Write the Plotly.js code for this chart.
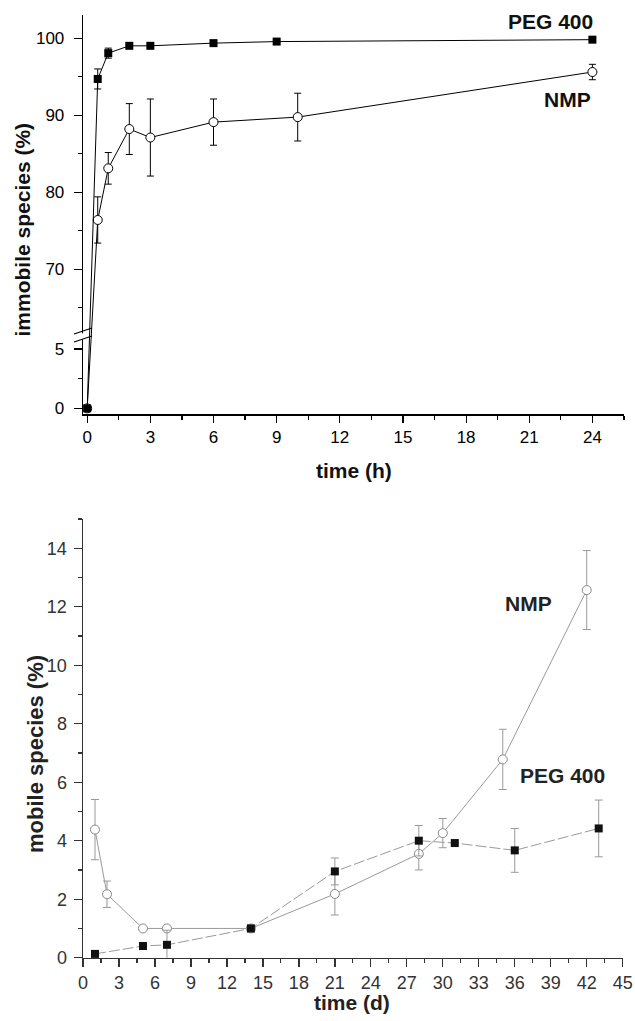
<!DOCTYPE html>
<html>
<head>
<meta charset="utf-8">
<script src="https://cdn.plot.ly/plotly-3.0.1.min.js"></script>
<style>html,body{margin:0;padding:0;background:#fff;}#chart{width:635px;height:1021px;}</style>
</head>
<body>
<div id="chart"></div>
<script>
// ---------- data: top panel (immobile species, hours) ----------
var pegHours = [0, 0.5, 1, 2, 3, 6, 9, 24];
var pegImmobile = [0, 94.7, 98.05, 99.0, 99.0, 99.35, 99.55, 99.8];
var pegImmobileErr = [0, 1.3, 0.65, 0.2, 0.2, 0.2, 0.2, 0.2];
var nmpHours = [0, 0.5, 1, 2, 3, 6, 10, 24];
var nmpImmobile = [0, 76.4, 83.1, 88.2, 87.1, 89.1, 89.75, 95.6];
var nmpImmobileErr = [0, 3.0, 2.05, 3.3, 5.0, 3.0, 3.1, 1.0];
var topYTickLabels = ['0', '5', '70', '80', '90', '100'];
var topYTickValues = [0, 5, 70, 80, 90, 100];
var topYMinorValues = [2.5, 65, 75, 85, 95];

// ---------- data: bottom panel (mobile species, days) ----------
var nmpDays = [1, 2, 5, 7, 14, 21, 28, 30, 35, 42];
var nmpMobile = [4.38, 2.17, 1.0, 1.0, 1.0, 2.18, 3.55, 4.26, 6.78, 12.57];
var nmpMobileErr = [1.03, 0.45, 0.05, 0.05, 0.05, 0.72, 0.55, 0.5, 1.03, 1.35];
var pegDays = [1, 5, 7, 14, 21, 28, 31, 36, 43];
var pegMobile = [0.13, 0.4, 0.44, 1.0, 2.95, 4.0, 3.92, 3.67, 4.42];
var pegMobileErr = [0, 0, 0.5, 0.12, 0.46, 0.52, 0, 0.75, 0.97];

// ---------- broken axis mapping for the top panel ----------
var BREAK_LO = 6.18, BREAK_HI = 61.47, UPPER_SCALE = 7.7 / 11.86;
function brk(v) { return v <= BREAK_LO + 1e-9 ? v : BREAK_LO + (v - BREAK_HI) * UPPER_SCALE; }
function mapArr(a) { return a.map(brk); }
function errPlus(y, e) { return y.map(function (v, i) { return brk(v + e[i]) - brk(v); }); }
function errMinus(y, e) { return y.map(function (v, i) { return brk(v) - brk(v - e[i]); }); }

var W = 635, H = 1021;
function px(x) { return x / W; }
function py(y) { return 1 - y / H; }

var FONT = 'Liberation Sans, Arial, sans-serif';

var traces = [
  {
    x: nmpHours, y: mapArr(nmpImmobile), xaxis: 'x', yaxis: 'y',
    type: 'scatter', mode: 'lines+markers', cliponaxis: false,
    line: {color: '#000', width: 1},
    marker: {symbol: 'circle', size: 9, color: '#fff', line: {color: '#000', width: 1}},
    error_y: {type: 'data', symmetric: false, array: errPlus(nmpImmobile, nmpImmobileErr),
      arrayminus: errMinus(nmpImmobile, nmpImmobileErr), color: '#000', thickness: 1, width: 3.5},
    name: 'NMP', showlegend: false, hoverinfo: 'skip'
  },
  {
    x: pegHours, y: mapArr(pegImmobile), xaxis: 'x', yaxis: 'y',
    type: 'scatter', mode: 'lines+markers', cliponaxis: false,
    line: {color: '#000', width: 1},
    marker: {symbol: 'square', size: 8, color: '#000'},
    error_y: {type: 'data', symmetric: false, array: errPlus(pegImmobile, pegImmobileErr),
      arrayminus: errMinus(pegImmobile, pegImmobileErr), color: '#000', thickness: 1, width: 3.5},
    name: 'PEG 400', showlegend: false, hoverinfo: 'skip'
  },
  {
    x: nmpDays, y: nmpMobile, xaxis: 'x2', yaxis: 'y2',
    type: 'scatter', mode: 'lines+markers', cliponaxis: false,
    line: {color: '#999', width: 1},
    marker: {symbol: 'circle', size: 9, color: '#fff', line: {color: '#888', width: 1}},
    error_y: {type: 'data', array: nmpMobileErr, color: '#999', thickness: 1, width: 4},
    name: 'NMP', showlegend: false, hoverinfo: 'skip'
  },
  {
    x: pegDays, y: pegMobile, xaxis: 'x2', yaxis: 'y2',
    type: 'scatter', mode: 'lines+markers', cliponaxis: false,
    line: {color: '#999', width: 1, dash: '11px,3px'},
    marker: {symbol: 'square', size: 8, color: '#111'},
    error_y: {type: 'data', array: pegMobileErr, color: '#999', thickness: 1, width: 4},
    name: 'PEG 400', showlegend: false, hoverinfo: 'skip'
  }
];

var tickFontTop = {family: FONT, size: 17, color: '#000'};
var tickFontBot = {family: FONT, size: 18, color: '#333'};

var layout = {
  width: W, height: H,
  margin: {l: 0, r: 0, t: 0, b: 0},
  paper_bgcolor: '#fff', plot_bgcolor: 'rgba(0,0,0,0)',
  showlegend: false,
  xaxis: {
    domain: [px(83), px(624.4)], range: [-0.2, 25.52], anchor: 'y',
    showgrid: false, zeroline: false, showline: true, linecolor: '#000', linewidth: 1.3,
    ticks: 'outside', ticklen: 7, tickwidth: 1.2, tickcolor: '#000',
    tickmode: 'linear', tick0: 0, dtick: 3,
    minor: {dtick: 1.5, tick0: 0, ticks: 'outside', ticklen: 4, tickwidth: 1.2, tickcolor: '#000'},
    tickfont: tickFontTop, fixedrange: true
  },
  yaxis: {
    domain: [py(414.3), py(15)], range: [-0.5, brk(103)], anchor: 'x',
    showgrid: false, zeroline: false, showline: true, linecolor: '#000', linewidth: 1.3,
    ticks: 'outside', ticklen: 8, tickwidth: 1.2, tickcolor: '#000',
    tickmode: 'array', tickvals: mapArr(topYTickValues), ticktext: topYTickLabels,
    minor: {tickmode: 'array', tickvals: mapArr(topYMinorValues), ticks: 'outside', ticklen: 4, tickwidth: 1.2, tickcolor: '#000'},
    tickfont: tickFontTop, ticklabelstandoff: 6, fixedrange: true
  },
  xaxis2: {
    domain: [px(83), px(622.7)], range: [0, 45], anchor: 'y2',
    showgrid: false, zeroline: false, showline: true, linecolor: '#333', linewidth: 1.5,
    ticks: 'outside', ticklen: 8, tickwidth: 1.3, tickcolor: '#333',
    tickmode: 'linear', tick0: 0, dtick: 3,
    minor: {dtick: 1.5, tick0: 0, ticks: 'outside', ticklen: 4, tickwidth: 1.2, tickcolor: '#333'},
    tickfont: tickFontBot, fixedrange: true
  },
  yaxis2: {
    domain: [py(957.7), py(519)], range: [0, 15], anchor: 'x2',
    showgrid: false, zeroline: false, showline: true, linecolor: '#333', linewidth: 1.5,
    ticks: 'outside', ticklen: 8, tickwidth: 1.3, tickcolor: '#333',
    tickmode: 'linear', tick0: 0, dtick: 2,
    minor: {dtick: 1, tick0: 0, ticks: 'outside', ticklen: 4, tickwidth: 1.2, tickcolor: '#333'},
    tickfont: tickFontBot, ticklabelstandoff: 3, fixedrange: true
  },
  shapes: [
    // white gap hiding the axis at the break
    {type: 'path', xref: 'paper', yref: 'paper', layer: 'above',
     path: 'M ' + px(76) + ',' + py(335.5) + ' L ' + px(88) + ',' + py(331.5) + ' L ' + px(88) + ',' + py(337.5) + ' L ' + px(76) + ',' + py(341.5) + ' Z',
     fillcolor: '#fff', line: {width: 0}},
    {type: 'line', xref: 'paper', yref: 'paper', layer: 'above',
     x0: px(74), y0: py(334), x1: px(92), y1: py(328), line: {color: '#000', width: 1.2}},
    {type: 'line', xref: 'paper', yref: 'paper', layer: 'above',
     x0: px(74), y0: py(342), x1: px(92), y1: py(336), line: {color: '#000', width: 1.2}}
  ],
  annotations: [
    {text: 'immobile species (%)', xref: 'paper', yref: 'paper', x: px(21.5), y: py(230),
     textangle: -90, showarrow: false, xanchor: 'center', yanchor: 'middle',
     font: {family: FONT, size: 21, color: '#111', weight: 'bold'}},
    {text: 'time (h)', xref: 'paper', yref: 'paper', x: px(354), y: py(470),
     showarrow: false, xanchor: 'center', yanchor: 'middle',
     font: {family: FONT, size: 21, color: '#111', weight: 'bold'}},
    {text: 'PEG 400', xref: 'paper', yref: 'paper', x: px(550), y: py(21.5),
     showarrow: false, xanchor: 'center', yanchor: 'middle',
     font: {family: FONT, size: 21, color: '#111', weight: 'bold'}},
    {text: 'NMP', xref: 'paper', yref: 'paper', x: px(567), y: py(100),
     showarrow: false, xanchor: 'center', yanchor: 'middle',
     font: {family: FONT, size: 21, color: '#111', weight: 'bold'}},
    {text: 'mobile species (%)', xref: 'paper', yref: 'paper', x: px(35), y: py(754),
     textangle: -90, showarrow: false, xanchor: 'center', yanchor: 'middle',
     font: {family: FONT, size: 22, color: '#222', weight: 'bold'}},
    {text: 'time (d)', xref: 'paper', yref: 'paper', x: px(352), y: py(1002),
     showarrow: false, xanchor: 'center', yanchor: 'middle',
     font: {family: FONT, size: 21, color: '#222', weight: 'bold'}},
    {text: 'NMP', xref: 'paper', yref: 'paper', x: px(528), y: py(603),
     showarrow: false, xanchor: 'center', yanchor: 'middle',
     font: {family: FONT, size: 21, color: '#222', weight: 'bold'}},
    {text: 'PEG 400', xref: 'paper', yref: 'paper', x: px(562), y: py(775),
     showarrow: false, xanchor: 'center', yanchor: 'middle',
     font: {family: FONT, size: 21, color: '#222', weight: 'bold'}}
  ]
};

Plotly.newPlot('chart', traces, layout, {staticPlot: true, displayModeBar: false});
</script>
</body>
</html>
